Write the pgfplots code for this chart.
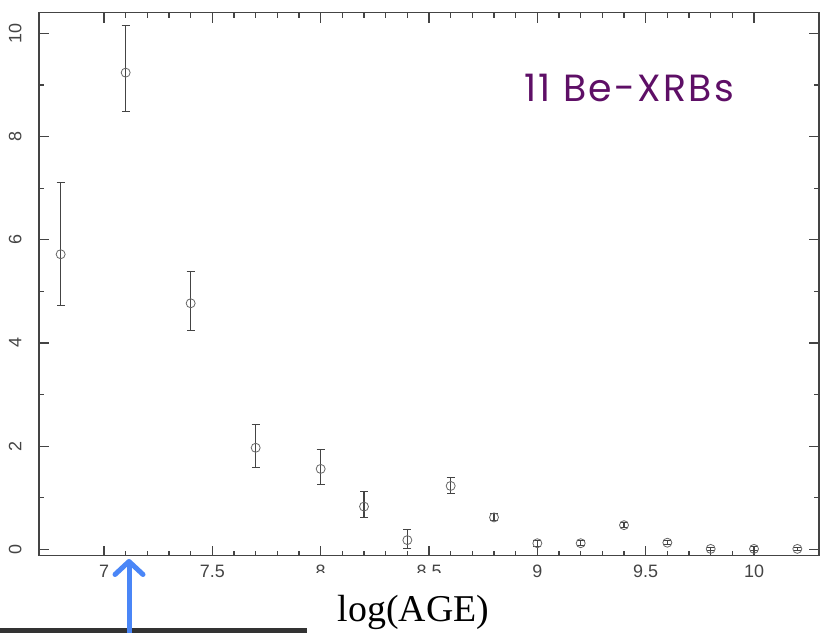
\documentclass[border=0pt]{standalone}
\usepackage{pgfplots}
\pgfplotsset{compat=1.18}
\usepackage{fontspec}
\setmainfont{Liberation Sans}
\newfontfamily\serifx{Liberation Serif}
\newfontfamily\hand{Poppins}[LetterSpace=6]
\usetikzlibrary{arrows.meta}
\definecolor{axgray}{HTML}{444444}
\definecolor{ptgray}{HTML}{666666}
\definecolor{hpurple}{HTML}{5E0F66}
\definecolor{arrblue}{HTML}{4A86F7}
\pgfplotstableread{
x y ep em
6.8 5.72 1.39 1.00
7.1 9.24 0.92 0.76
7.4 4.77 0.62 0.52
7.7 1.97 0.45 0.38
8.0 1.56 0.38 0.30
8.2 0.83 0.29 0.22
8.4 0.18 0.21 0.16
8.6 1.23 0.17 0.15
8.8 0.62 0.07 0.06
9.0 0.12 0.06 0.06
9.2 0.12 0.06 0.05
9.4 0.47 0.05 0.05
9.6 0.13 0.04 0.04
9.8 0.01 0.03 0.03
10.0 0.01 0.04 0.04
10.2 0.01 0.03 0.03
}\datatable
\begin{document}
\begin{tikzpicture}[x=1bp,y=1bp]
\path[use as bounding box] (0,0) rectangle (820,633);
\begin{axis}[
  at={(39bp,77.4bp)}, anchor=south west,
  scale only axis, width=780bp, height=542.8bp,
  xmin=6.7, xmax=10.3, ymin=-0.12, ymax=10.4,
  xtick={7,7.5,8,8.5,9,9.5,10},
  ytick={0,2,4,6,8,10},
  minor x tick num=4, minor y tick num=1,
  tick align=inside,
  major tick length=10bp, minor tick length=5bp,
  xtick pos=both, ytick pos=both,
  xticklabel pos=left, yticklabel pos=left,
  axis line style={axgray, line width=1.3pt},
  tick style={axgray, line width=1.2pt},
  /pgf/number format/assume math mode=true,
  xticklabel style={font=\fontsize{18}{18}\selectfont, text=axgray, yshift=-6bp},
  yticklabel style={font=\fontsize{18}{18}\selectfont, text=axgray, rotate=90, anchor=south, yshift=14bp},
  clip=false,
]
\addplot[only marks, mark=o, mark size=4.5bp, ptgray, line width=0.8pt,
  error bars/.cd, y dir=both, y explicit,
  error bar style={axgray, line width=1.1pt},
  error mark options={rotate=90, mark size=4bp, axgray, line width=1.1pt}]
  table[x=x, y=y, y error plus=ep, y error minus=em] {\datatable};
\end{axis}
\fill[white] (300,0) rectangle (515,60);
\node[anchor=base, font=\serifx\fontsize{38}{38}\selectfont] at (413.5,11) {log(AGE)};
\fill[black!80] (0,0) rectangle (307,4.5);
\draw[arrblue, line width=5bp, line cap=round, -{Straight Barb[length=13bp, width=28bp, round]}] (129,-2) -- (129,74);
\node[hpurple, font=\hand\fontsize{38}{38}\selectfont, anchor=center] at (629,545) {11 Be-XRBs};
\end{tikzpicture}
\end{document}
